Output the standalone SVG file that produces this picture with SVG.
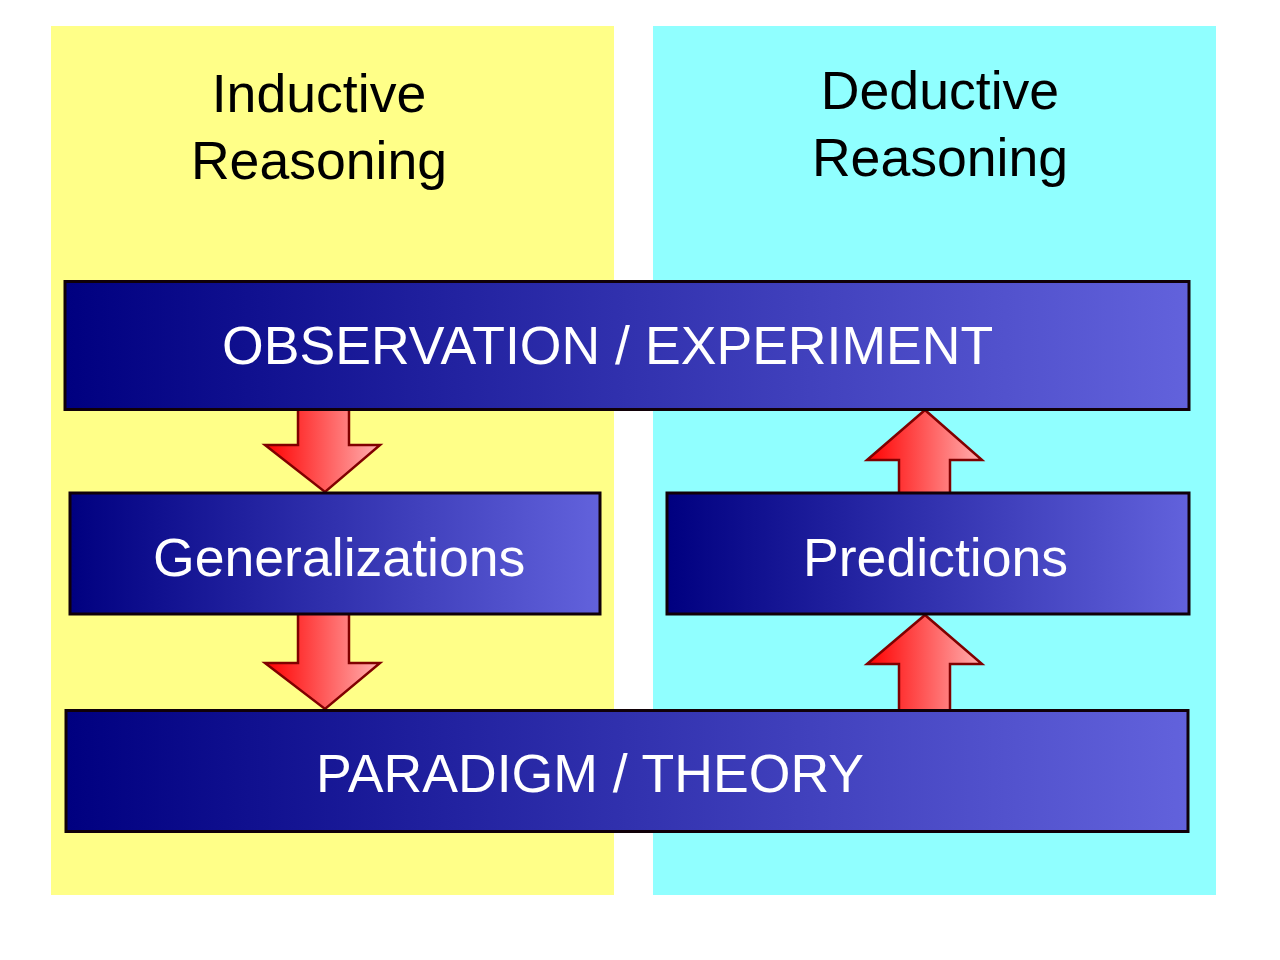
<svg xmlns="http://www.w3.org/2000/svg" width="1280" height="960" viewBox="0 0 1280 960">
<defs>
<linearGradient id="boxGrad" x1="0" y1="0" x2="1" y2="0">
<stop offset="0" stop-color="#000080"/>
<stop offset="1" stop-color="#6262dc"/>
</linearGradient>
<linearGradient id="arrowGrad" x1="0" y1="0" x2="1" y2="0">
<stop offset="0" stop-color="#ff0000"/>
<stop offset="1" stop-color="#ffb0b0"/>
</linearGradient>
<style>
.panel-title{font-family:"Liberation Sans",Arial,sans-serif;font-size:53.6px;fill:#000;text-anchor:middle}
.box{fill:url(#boxGrad);stroke:#100008;stroke-width:3}
.box-label{font-family:"Liberation Sans",Arial,sans-serif;font-size:53.6px;fill:#fff}
.arrow{fill:url(#arrowGrad);stroke:#800000;stroke-width:2.5;stroke-linejoin:miter}
</style>
</defs>
<rect width="1280" height="960" fill="#fff"/>
<g id="panel-inductive">
<rect x="51" y="26" width="563" height="869" fill="#ffff88"/>
<text class="panel-title" x="319" y="112">Inductive</text>
<text class="panel-title" x="319" y="179">Reasoning</text>
</g>
<g id="panel-deductive">
<rect x="653" y="26" width="563" height="869" fill="#90ffff"/>
<text class="panel-title" x="940" y="109">Deductive</text>
<text class="panel-title" x="940" y="176">Reasoning</text>
</g>
<g id="connectors">
<polygon class="arrow" points="298,405 349,405 349,445 380,445 325,492 265,445 298,445"/>
<polygon class="arrow" points="298,610 349,610 349,663 380,663 325,709 265,663 298,663"/>
<polygon class="arrow" points="899,497 950,497 950,460 982,460 925,410 867,460 899,460"/>
<polygon class="arrow" points="899,714 950,714 950,664 982,664 925,615 867,664 899,664"/>
</g>
<g id="node-observation">
<rect class="box" x="65" y="281.5" width="1124" height="128"/>
<text class="box-label" x="222" y="364">OBSERVATION / EXPERIMENT</text>
</g>
<g id="node-generalizations">
<rect class="box" x="70" y="493" width="530" height="121"/>
<text class="box-label" x="153" y="576">Generalizations</text>
</g>
<g id="node-predictions">
<rect class="box" x="667" y="493" width="522" height="121"/>
<text class="box-label" x="803" y="576">Predictions</text>
</g>
<g id="node-paradigm">
<rect class="box" x="66" y="710.5" width="1122" height="121"/>
<text class="box-label" x="316" y="792">PARADIGM / THEORY</text>
</g>
</svg>
